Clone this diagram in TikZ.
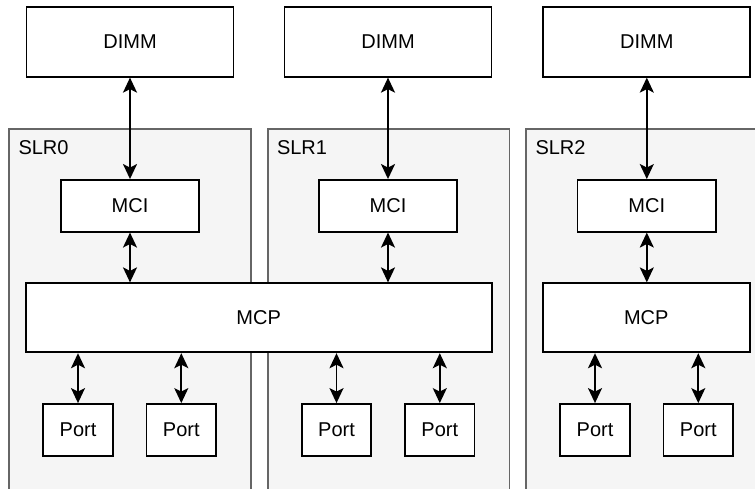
\documentclass[tikz,border=0pt]{standalone}
\usepackage{fontspec}
\setmainfont{Liberation Sans}
\usetikzlibrary{arrows.meta}
\definecolor{slrfill}{HTML}{F5F5F5}
\definecolor{slrline}{HTML}{666666}
\begin{document}
\begin{tikzpicture}[x=1pt,y=-1pt,
  font=\fontsize{20}{24}\selectfont,
  blk/.style={draw=black, fill=white, line width=1.8pt, rectangle, inner sep=0pt},
  slr/.style={draw=slrline, fill=slrfill, line width=1.8pt, rectangle, inner sep=0pt,
              anchor=north west, minimum width=241.7pt, minimum height=380pt},
  slrtitle/.style={anchor=base west, inner sep=0pt},
  link/.style={line width=1.8pt, {Stealth[length=15pt,width=14pt,inset=3.5pt]}-{Stealth[length=15pt,width=14pt,inset=3.5pt]}},
  dimmbox/.style={blk, minimum width=207pt, minimum height=69.4pt},
  mcibox/.style={blk, minimum width=138.5pt, minimum height=51.7pt},
  portbox/.style={blk, minimum width=69.5pt, minimum height=52pt},
]
\useasboundingbox (0,0) rectangle (755,488);
\clip (0,0) rectangle (755,488);

% SLR regions (they continue below the visible area)
\node[slr] (slr0) at (8.3,128) {};
\node[slr] (slr1) at (266.8,128) {};
\node[slr] (slr2) at (525.3,128) {};
\node[slrtitle] (slr0t) at ([xshift=10pt,yshift=-26.5pt]slr0.north west) {SLR0};
\node[slrtitle] (slr1t) at ([xshift=10pt,yshift=-26.5pt]slr1.north west) {SLR1};
\node[slrtitle] (slr2t) at ([xshift=10pt,yshift=-26.5pt]slr2.north west) {SLR2};

% memory modules
\node[dimmbox] (dimm0) at (130,42) {DIMM};
\node[dimmbox] (dimm1) at (388,42) {DIMM};
\node[dimmbox] (dimm2) at (646.8,42) {DIMM};

% memory controller interfaces
\node[mcibox] (mci0) at (130,205.8) {MCI};
\node[mcibox] (mci1) at (388,205.8) {MCI};
\node[mcibox] (mci2) at (646.8,205.8) {MCI};

% memory controller ports blocks
\node[blk, minimum width=466pt, minimum height=69pt] (mcp01) at (258.7,317.8) {MCP};
\node[blk, minimum width=207.3pt, minimum height=69pt] (mcp2) at (646.3,317.8) {MCP};

% ports
\node[portbox] (p0a) at (78,430) {Port};
\node[portbox] (p0b) at (181.3,430) {Port};
\node[portbox] (p1a) at (336.5,430) {Port};
\node[portbox] (p1b) at (439.8,430) {Port};
\node[portbox] (p2a) at (595,430) {Port};
\node[portbox] (p2b) at (698.3,430) {Port};

% DIMM <-> MCI
\draw[link] (dimm0.south) -- (mci0.north);
\draw[link] (dimm1.south) -- (mci1.north);
\draw[link] (dimm2.south) -- (mci2.north);

% MCI <-> MCP
\draw[link] (mci0.south) -- (mci0.south |- mcp01.north);
\draw[link] (mci1.south) -- (mci1.south |- mcp01.north);
\draw[link] (mci2.south) -- (mci2.south |- mcp2.north);

% MCP <-> Port
\draw[link] (p0a.north |- mcp01.south) -- (p0a.north);
\draw[link] (p0b.north |- mcp01.south) -- (p0b.north);
\draw[link] (p1a.north |- mcp01.south) -- (p1a.north);
\draw[link] (p1b.north |- mcp01.south) -- (p1b.north);
\draw[link] (p2a.north |- mcp2.south) -- (p2a.north);
\draw[link] (p2b.north |- mcp2.south) -- (p2b.north);
\end{tikzpicture}
\end{document}
